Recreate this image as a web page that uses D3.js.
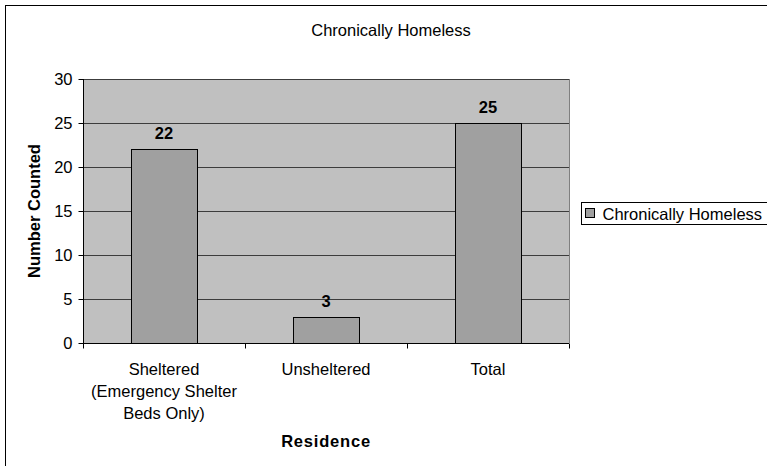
<!DOCTYPE html>
<html>
<head>
<meta charset="utf-8">
<script src="https://cdn.jsdelivr.net/npm/d3@7"></script>
<style>
  body { margin: 0; background: #fff; }
  svg { display: block; font-family: "Liberation Sans", Arial, sans-serif; }
</style>
</head>
<body>
<svg id="chart" width="767" height="466"></svg>
<script>
// chart values
var categories = [["Sheltered", "(Emergency Shelter", "Beds Only)"], ["Unsheltered"], ["Total"]];
var counts = [22, 3, 25];
var yTicks = [0, 5, 10, 15, 20, 25, 30];
var seriesName = "Chronically Homeless";

var draw = {

    margin: {top: 79, left: 83, right: 198, bottom: 123},

    index: function () {
        var svg = d3.select("#chart");
        var W = 767, H = 466, m = draw.margin;
        var width = W - m.left - m.right,   // 486
            height = H - m.top - m.bottom;  // 264

        // outer chart frame
        svg.append("rect")
            .attr("x", 5.5).attr("y", 5.5)
            .attr("width", 800).attr("height", 500)
            .attr("fill", "none").attr("stroke", "#000");

        var x = d3.scaleBand()
            .domain(d3.range(categories.length))
            .range([0, width]);
        var y = d3.scaleLinear()
            .domain([0, 30])
            .range([height, 0]);

        var g = svg.append("g")
            .attr("transform", "translate(" + m.left + "," + m.top + ")");

        // plot area
        g.append("rect")
            .attr("width", width).attr("height", height)
            .attr("fill", "#c0c0c0");

        // gridlines
        g.selectAll(".grid")
            .data(yTicks.filter(function (d) { return d > 0; }))
            .enter().append("line")
            .attr("x1", 0).attr("x2", width)
            .attr("y1", function (d) { return Math.round(y(d)) + 0.5; })
            .attr("y2", function (d) { return Math.round(y(d)) + 0.5; })
            .attr("stroke", d3.color("#3c3c3c")).attr("stroke-width", 1);

        // right border of plot area
        g.append("line")
            .attr("x1", width + 0.5).attr("x2", width + 0.5)
            .attr("y1", 0).attr("y2", height)
            .attr("stroke", "#808080");

        // bars
        var barW = x.bandwidth() * 0.41;
        g.selectAll(".bar")
            .data(counts)
            .enter().append("rect")
            .attr("class", "bar")
            .attr("x", function (d, i) { return Math.round(x(i) + (x.bandwidth() - barW) / 2) + 0.5; })
            .attr("y", function (d) { return Math.round(y(d)) + 0.5; })
            .attr("width", Math.round(barW))
            .attr("height", function (d) { return Math.round(height - y(d)); })
            .attr("fill", "#a0a0a0")
            .attr("stroke", "#000");

        // value labels
        g.selectAll(".val")
            .data(counts)
            .enter().append("text")
            .attr("x", function (d, i) { return x(i) + x.bandwidth() / 2; })
            .attr("y", function (d) { return y(d) - 10; })
            .attr("text-anchor", "middle")
            .attr("font-size", "16.5px")
            .attr("font-weight", "bold")
            .text(function (d) { return d; });

        // y axis
        var yAxis = g.append("g")
            .attr("transform", "translate(0.5,0)")
            .call(d3.axisLeft(y).tickValues(yTicks).tickSize(5).tickPadding(6));
        yAxis.selectAll("text").attr("font-size", "16.5px").attr("fill", "#000")
            .style("font-family", "Liberation Sans, Arial, sans-serif");
        yAxis.select(".domain").attr("stroke", "#000").attr("d", "M0," + height + "V0");

        // x axis with ticks at category boundaries
        var bounds = d3.range(categories.length + 1).map(function (i) { return i * x.bandwidth(); });
        var xg = g.append("g").attr("transform", "translate(0," + (height + 0.5) + ")");
        xg.append("line").attr("x1", 0).attr("x2", width).attr("stroke", "#000");
        xg.selectAll(".tk").data(bounds).enter().append("line")
            .attr("x1", function (d) { return Math.round(d) + 0.5; })
            .attr("x2", function (d) { return Math.round(d) + 0.5; })
            .attr("y1", 0).attr("y2", 5).attr("stroke", "#000");

        var lbl = xg.selectAll(".cat").data(categories).enter().append("text")
            .attr("text-anchor", "middle")
            .attr("font-size", "16.5px")
            .attr("transform", function (d, i) { return "translate(" + (x(i) + x.bandwidth() / 2) + ",0)"; });
        lbl.selectAll("tspan").data(function (d) { return d; }).enter().append("tspan")
            .attr("x", 0)
            .attr("y", function (d, i) { return 31 + i * 22; })
            .text(function (d) { return d; });

        // titles
        svg.append("text")
            .attr("x", m.left + width / 2 + 65).attr("y", 36)
            .attr("text-anchor", "middle").attr("font-size", "16.5px")
            .text(seriesName);
        svg.append("text")
            .attr("x", m.left + width / 2).attr("y", 447)
            .attr("text-anchor", "middle").attr("font-size", "16.5px")
            .attr("font-weight", "bold").attr("letter-spacing", "0.8px")
            .text("Residence");
        svg.append("text")
            .attr("transform", "translate(40," + (m.top + height / 2) + ") rotate(-90)")
            .attr("text-anchor", "middle").attr("font-size", "16.5px")
            .attr("font-weight", "bold")
            .text("Number Counted");

        // legend
        var lg = svg.append("g").attr("transform", "translate(581.5,202.5)");
        lg.append("rect").attr("width", 200).attr("height", 22)
            .attr("fill", "#fff").attr("stroke", "#000");
        lg.append("rect").attr("x", 4).attr("y", 6).attr("width", 9).attr("height", 9)
            .attr("fill", "#a0a0a0").attr("stroke", "#000");
        lg.append("text").attr("x", 21).attr("y", 17)
            .attr("font-size", "16.5px").text(seriesName);
    }
};

draw.index();
</script>
</body>
</html>
